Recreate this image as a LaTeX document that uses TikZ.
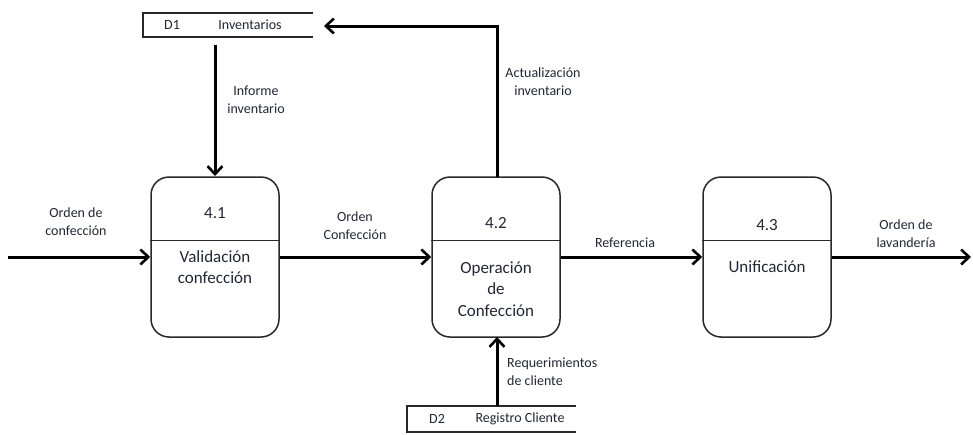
\documentclass[tikz,border=0pt]{standalone}
\usepackage{fontspec}
\setmainfont{Carlito}
\usetikzlibrary{arrows.meta}
\definecolor{ink}{RGB}{35,38,52}
\definecolor{edge}{RGB}{40,40,40}
\begin{document}
\begin{tikzpicture}[x=1pt,y=-1pt,
  proc/.style={draw=edge,line width=1.5pt,rounded corners=18pt,minimum width=128pt,minimum height=160pt,inner sep=0pt},
  flow/.style={line width=3pt,-{Straight Barb[length=8pt,width=15pt,line width=2.6pt]}},
  lbl/.style={text=ink,font=\fontsize{14}{18}\selectfont,align=center,inner sep=0pt},
  ttl/.style={text=ink,font=\fontsize{17}{21.5}\selectfont,align=center,inner sep=0pt},
  store/.style={draw=edge,line width=1.5pt},
  divider/.style={draw=edge,line width=1pt}]
\useasboundingbox (0,0) rectangle (973,434);

% processes
\node[proc] (p1) at (215,257) {};
\node[proc] (p2) at (496,257) {};
\node[proc] (p3) at (767,257) {};
\draw[divider] (p1.west |- 0,240) -- (p1.east |- 0,240);
\draw[divider] (p2.west |- 0,240) -- (p2.east |- 0,240);
\draw[divider] (p3.west |- 0,240) -- (p3.east |- 0,240);
\node[ttl] (n1) at (215,213) {4.1};
\node[ttl] (t1) at (215,267) {Validación\\confección};
\node[ttl] (n2) at (496,223) {4.2};
\node[ttl] (t2) at (496,289) {Operación\\de\\Confección};
\node[ttl] (n3) at (767,225) {4.3};
\node[ttl] (t3) at (767,267) {Unificación};

% data stores
\coordinate (d1a) at (313,13);
\coordinate (d1b) at (143,13);
\coordinate (d1c) at (143,37);
\coordinate (d1d) at (313,37);
\draw[store] (d1a) -- (d1b) -- (d1c) -- (d1d);
\node[lbl] (d1id) at (172,25) {D1};
\node[lbl] (d1n) at (250,25) {Inventarios};

\coordinate (d2a) at (576,406);
\coordinate (d2b) at (407,406);
\coordinate (d2c) at (407,432);
\coordinate (d2d) at (576,432);
\draw[store] (d2a) -- (d2b) -- (d2c) -- (d2d);
\node[lbl] (d2id) at (437,419) {D2};
\node[lbl] (d2n) at (520,419) {Registro Cliente};

% flows
\coordinate (src) at (8,257);
\coordinate (snk) at (971,257);
\draw[flow] (src) -- (p1.west |- src);
\draw[flow] (p1.east |- src) -- (p2.west |- src);
\draw[flow] (p2.east |- src) -- (p3.west |- src);
\draw[flow] (p3.east |- src) -- (snk);

\coordinate (inv1) at (215,45);
\draw[flow] (inv1) -- (p1.north |- 0,176);

\coordinate (up0) at (497,177);
\coordinate (upc) at (497,26);
\coordinate (upt) at (324,26);
\draw[flow] (up0) -- (upc) -- (upt);

\coordinate (rq0) at (497,406);
\coordinate (rq1) at (497,337);
\draw[flow] (rq0) -- (rq1);

% flow labels
\node[lbl] (l1) at (76,222) {Orden de\\confección};
\node[lbl] (l2) at (355,226) {Orden\\Confección};
\node[lbl] (l3) at (625,243) {Referencia};
\node[lbl] (l4) at (906,234) {Orden de\\lavandería};
\node[lbl] (l5) at (256,100) {Informe\\inventario};
\node[lbl] (l6) at (543,82) {Actualización\\inventario};
\node[lbl,align=left,anchor=west] (l7) at (507,372) {Requerimientos\\de cliente};
\end{tikzpicture}
\end{document}
